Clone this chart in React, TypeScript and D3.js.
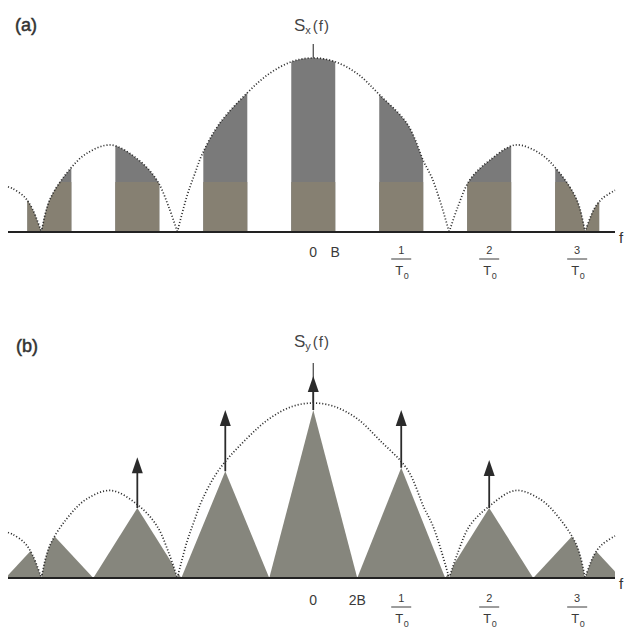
import React from "react";
import * as d3 from "d3";

const W = 628;
const H = 628;

// Frequencies are in units of 1/T0.
const bandwidth = 0.25; // B
const harmonics = [-3, -2, -1, 0, 1, 2, 3];

// |sinc|-like envelope shared by both spectra (zeros split the lobes)
const envelopeFreq = [
  -3.47, -3.42, -3.28, -3.19, -3.09, -3.0, -2.8, -2.58, -2.3, -2.0, -1.78, -1.64,
  -1.545, -1.44, -1.35, -1.26, -1.07, -0.75, -0.5, -0.24, 0, 0.24, 0.5, 0.75, 1.07,
  1.26, 1.35, 1.44, 1.545, 1.64, 1.78, 2.0, 2.3, 2.58, 2.8, 3.0, 3.09, 3.19, 3.28, 3.43,
];
const envelopeLevel = [
  0.26, 0.25, 0.2, 0.13, 0, 0.18, 0.34, 0.45, 0.5, 0.42, 0.3, 0.14,
  0, 0.2, 0.33, 0.45, 0.62, 0.8, 0.91, 0.98, 1.0, 0.98, 0.91, 0.79, 0.62,
  0.4, 0.31, 0.18, 0, 0.14, 0.3, 0.41, 0.5, 0.45, 0.34, 0.18, 0, 0.13, 0.19, 0.24,
];

// Panel (b): triangular replicas and impulse tips per harmonic
const triangleHeight = [0.27, 0.4, 0.61, 0.96, 0.63, 0.4, 0.27];
const impulseTip = [null, 0.69, 0.96, 1.155, 0.96, 0.675, null];

const xTicksA = [
  { f: 0, label: "0" },
  { f: bandwidth, label: "B" },
];
const xTicksB = [
  { f: 0, label: "0" },
  { f: 2 * bandwidth, label: "2B" },
];
const fractionTicks = [
  { f: 1, num: "1" },
  { f: 2, num: "2" },
  { f: 3, num: "3" },
];

const xs = d3.scaleLinear().domain([-3.47, 3.43]).range([8, 615]);
const yA = d3.scaleLinear().domain([0, 1]).range([232, 58]);
const yB = d3.scaleLinear().domain([0, 1]).range([578, 403]);

type Pt = [number, number];

function lobes(): Pt[][] {
  const out: Pt[][] = [];
  let cur: Pt[] = [];
  envelopeFreq.forEach((f, i) => {
    const v = envelopeLevel[i];
    cur.push([f, v]);
    if (v === 0 && cur.length > 1) {
      out.push(cur);
      cur = [[f, v]];
    }
  });
  if (cur.length > 1) out.push(cur);
  return out;
}

const FONT = "'Liberation Sans', Arial, Helvetica, sans-serif";
const INK = "#2b2b2b";

function Panel({
  id,
  y,
  children,
}: {
  id: string;
  y: d3.ScaleLinear<number, number>;
  children?: React.ReactNode;
}) {
  const lobeList = lobes();
  const line = d3
    .line<Pt>()
    .x((d) => xs(d[0]))
    .y((d) => y(d[1]))
    .curve(d3.curveCatmullRom.alpha(0.5));
  const area = d3
    .area<Pt>()
    .x((d) => xs(d[0]))
    .y0(y(0))
    .y1((d) => y(d[1]))
    .curve(d3.curveCatmullRom.alpha(0.5));
  return (
    <g>
      <defs>
        <clipPath id={`env-${id}`}>
          {lobeList.map((l, i) => (
            <path key={i} d={area(l) || ""} />
          ))}
        </clipPath>
      </defs>
      <g clipPath={`url(#env-${id})`}>{children}</g>
      {lobeList.map((l, i) => (
        <path
          key={i}
          d={line(l) || ""}
          fill="none"
          stroke="#2e2e2e"
          strokeWidth={1.7}
          strokeDasharray="1.1 2"
        />
      ))}
      <line x1={xs.range()[0]} x2={xs.range()[1]} y1={y(0)} y2={y(0)} stroke="#222" strokeWidth={2.2} />
    </g>
  );
}

function Fraction({ x, top, num }: { x: number; top: number; num: string }) {
  return (
    <g fontFamily={FONT} fill="#3a3a3a" textAnchor="middle">
      <text x={x} y={top + 8} fontSize={11}>
        {num}
      </text>
      <line x1={x - 10} x2={x + 10} y1={top + 13} y2={top + 13} stroke="#3a3a3a" strokeWidth={1} />
      <text x={x - 2} y={top + 29} fontSize={13}>
        T
      </text>
      <text x={x + 5} y={top + 33} fontSize={9}>
        0
      </text>
    </g>
  );
}

function Arrow({ f, from, to }: { f: number; from: number; to: number }) {
  const x = xs(f);
  const y0 = yB(from);
  const y1 = yB(to);
  const head = 16;
  return (
    <g>
      <line x1={x} x2={x} y1={y0} y2={y1 + head - 2} stroke={INK} strokeWidth={1.8} />
      <path d={`M${x},${y1} L${x - 5.5},${y1 + head} L${x + 5.5},${y1 + head} Z`} fill={INK} />
    </g>
  );
}

export default function App() {
  const bands = harmonics.map((k) => ({ x0: xs(k - bandwidth), x1: xs(k + bandwidth) }));
  const triangles = harmonics.map((k, i) => {
    const pts: Pt[] = [
      [k - 2 * bandwidth, 0],
      [k, triangleHeight[i]],
      [k + 2 * bandwidth, 0],
    ];
    return pts.map((p) => `${xs(p[0])},${yB(p[1])}`).join(" ");
  });

  return (
    <svg
      width={W}
      height={H}
      viewBox={`0 0 ${W} ${H}`}
      style={{ position: "absolute", left: 0, top: 0, background: "#fff" }}
    >
      {/* (a) sampled spectrum: bands of width 2B cut from the envelope */}
      <text x={15} y={31} fontFamily={FONT} fontSize={18} fill="#333" stroke="#333" strokeWidth={0.5}>
        (a)
      </text>
      <text x={312} y={31} fontFamily={FONT} fill="#444" textAnchor="middle">
        <tspan fontSize={17}>S</tspan>
        <tspan fontSize={11} dy={3}>x</tspan>
        <tspan fontSize={15} dy={-3} dx={2} letterSpacing={1}>(f)</tspan>
      </text>
      <line x1={xs(0)} x2={xs(0)} y1={44} y2={yA(1)} stroke="#444" strokeWidth={1.2} />
      <Panel id="a" y={yA}>
        {bands.map((b, i) => (
          <rect key={i} x={b.x0} width={b.x1 - b.x0} y={yA(1.05)} height={yA(0) - yA(1.05)} fill="#7a7a7a" />
        ))}
        {bands.map((b, i) => (
          <rect key={`t${i}`} x={b.x0} width={b.x1 - b.x0} y={182} height={yA(0) - 182} fill="#868072" />
        ))}
      </Panel>
      {xTicksA.map((t) => (
        <text key={t.label} x={xs(t.f)} y={257} fontFamily={FONT} fontSize={14} fill="#3a3a3a" textAnchor="middle">
          {t.label}
        </text>
      ))}
      {fractionTicks.map((t) => (
        <Fraction key={t.num} x={xs(t.f)} top={246} num={t.num} />
      ))}
      <text x={619} y={243} fontFamily={FONT} fontSize={15} fill="#333">
        f
      </text>

      {/* (b) spectrum of the flat-top sampled signal */}
      <text x={16} y={352} fontFamily={FONT} fontSize={18} fill="#333" stroke="#333" strokeWidth={0.5}>
        (b)
      </text>
      <text x={312} y={347} fontFamily={FONT} fill="#444" textAnchor="middle">
        <tspan fontSize={17}>S</tspan>
        <tspan fontSize={11} dy={3}>y</tspan>
        <tspan fontSize={15} dy={-3} dx={2} letterSpacing={1}>(f)</tspan>
      </text>
      <line x1={xs(0)} x2={xs(0)} y1={363} y2={yB(1)} stroke="#444" strokeWidth={1.2} />
      <Panel id="b" y={yB}>
        {triangles.map((p, i) => (
          <polygon key={i} points={p} fill="#86867d" />
        ))}
      </Panel>
      {harmonics.map((k, i) =>
        impulseTip[i] == null ? null : (
          <Arrow key={k} f={k} from={triangleHeight[i]} to={impulseTip[i] as number} />
        )
      )}
      {xTicksB.map((t) => (
        <text key={t.label} x={xs(t.f)} y={605} fontFamily={FONT} fontSize={14} fill="#3a3a3a" textAnchor="middle">
          {t.label}
        </text>
      ))}
      {fractionTicks.map((t) => (
        <Fraction key={`b${t.num}`} x={xs(t.f)} top={594} num={t.num} />
      ))}
      <text x={619} y={589} fontFamily={FONT} fontSize={15} fill="#333">
        f
      </text>
    </svg>
  );
}
